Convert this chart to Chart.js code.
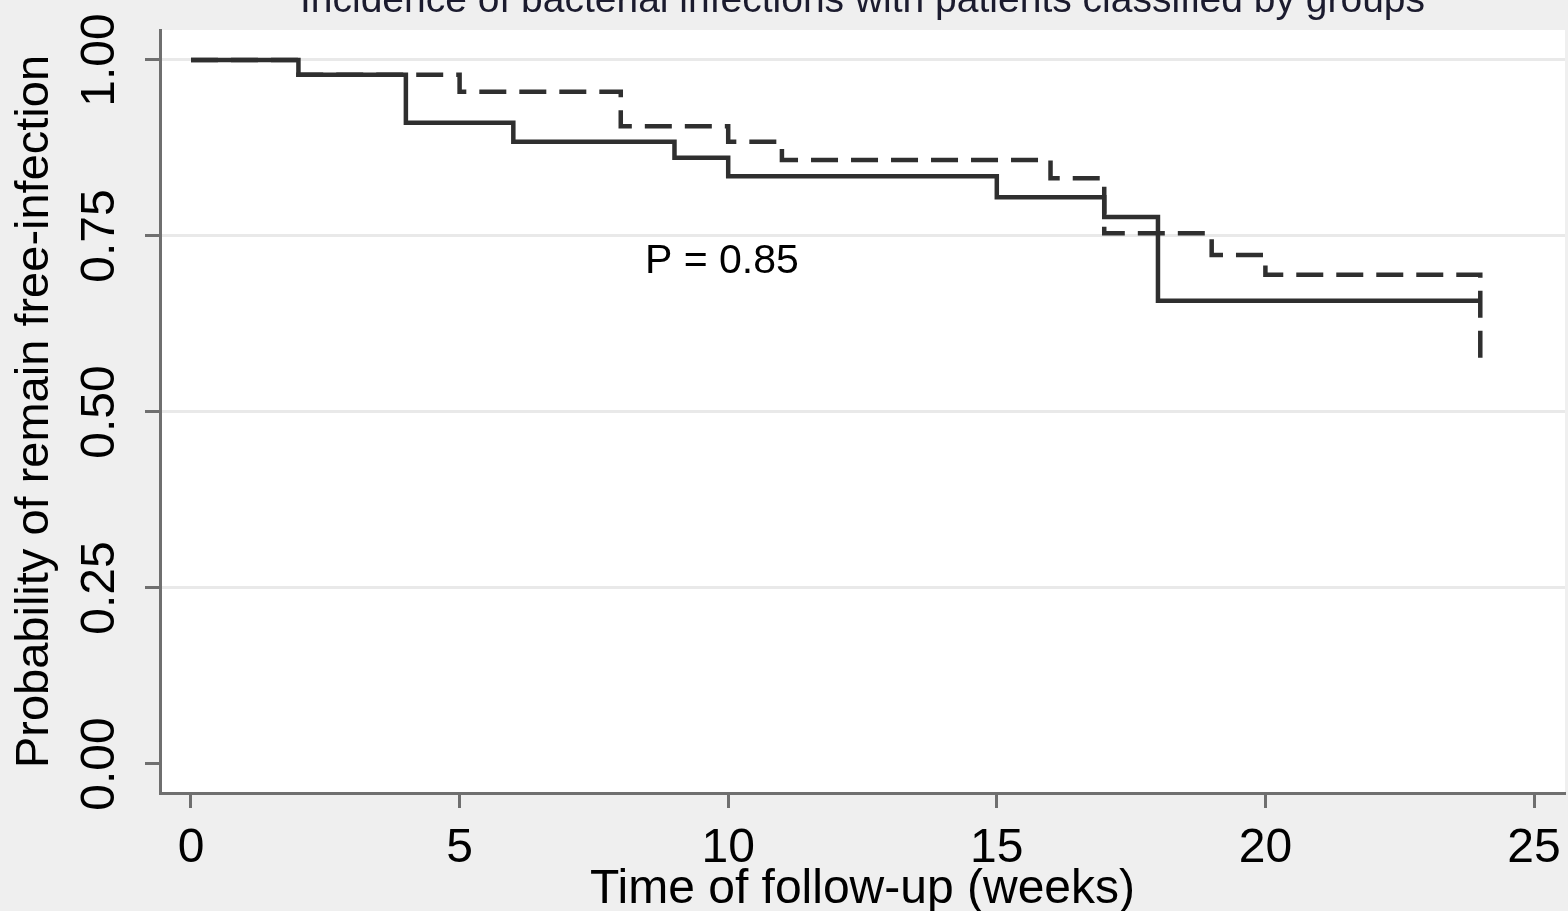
<!DOCTYPE html>
<html>
<head>
<meta charset="utf-8">
<title>Incidence of bacterial infections</title>
<script src="https://cdn.jsdelivr.net/npm/chart.js@4/dist/chart.umd.min.js"></script>
<style>
  html, body { margin: 0; padding: 0; background: #efefef; }
  canvas { display: block; }
</style>
</head>
<body>
<canvas id="km" width="1568" height="911"></canvas>
<script>
// Kaplan-Meier steps: week of each event and survival from that week on
const group1Weeks = [0, 2, 4, 6, 9, 10, 15, 17, 18, 24];
const group1Surv  = [1.000, 0.979, 0.911, 0.884, 0.861, 0.835, 0.805, 0.777, 0.658, 0.658];
const group2Weeks = [0, 2, 5, 8, 10, 11, 16, 17, 19, 20, 24];
const group2Surv  = [1.000, 0.979, 0.955, 0.906, 0.884, 0.858, 0.832, 0.754, 0.723, 0.695, 0.571];

const xTicks = [0, 5, 10, 15, 20, 25];
const yTicks = [0, 0.25, 0.5, 0.75, 1];

const chartTitle = 'Incidence of bacterial infections with patients classified by groups';
const xTitle = 'Time of follow-up (weeks)';
const yTitle = 'Probability of remain free-infection';
const pNote = { text: 'P = 0.85', week: 8.45, surv: 0.697 };

const INK = '#2f2f2f';
const AXIS = '#6f6f6f';
const FONT = '"Liberation Sans", Arial, Helvetica, sans-serif';

function toPoints(weeks, surv){ return weeks.map((w, i) => ({ x: w, y: surv[i] })); }

// grey page with a white plotting region
const backdrop = {
  id: 'backdrop',
  beforeDraw(chart){
    const { ctx, chartArea: a } = chart;
    ctx.save();
    ctx.fillStyle = '#efefef';
    ctx.fillRect(0, 0, chart.width, chart.height);
    ctx.fillStyle = '#ffffff';
    ctx.fillRect(a.left, a.top, a.right - a.left, a.bottom - a.top);
    ctx.restore();
  }
};

// title above the plot and the p-value note inside it
const notes = {
  id: 'notes',
  afterDraw(chart){
    const { ctx, chartArea: a, scales } = chart;
    ctx.save();
    ctx.fillStyle = '#1b1b2e';
    ctx.font = '39px ' + FONT;
    ctx.textAlign = 'center';
    ctx.textBaseline = 'alphabetic';
    ctx.fillText(chartTitle, (a.left + a.right) / 2, 12);

    ctx.fillStyle = '#000';
    ctx.font = '41px ' + FONT;
    ctx.textAlign = 'left';
    ctx.fillText(pNote.text, scales.x.getPixelForValue(pNote.week), scales.y.getPixelForValue(pNote.surv));
    ctx.restore();
  }
};

const lineStyle = {
  borderColor: INK,
  borderWidth: 4.5,
  stepped: 'before',
  pointRadius: 0,
  fill: false,
  borderCapStyle: 'butt',
  borderJoinStyle: 'miter'
};

new Chart(document.getElementById('km'), {
  type: 'line',
  data: {
    datasets: [
      { label: 'Group 1', data: toPoints(group1Weeks, group1Surv), ...lineStyle },
      { label: 'Group 2', data: toPoints(group2Weeks, group2Surv), ...lineStyle, borderDash: [27, 13] }
    ]
  },
  options: {
    responsive: false,
    animation: false,
    layout: { padding: { top: 30, right: 3, left: 0, bottom: 0 } },
    plugins: { legend: { display: false }, tooltip: { enabled: false } },
    scales: {
      x: {
        type: 'linear',
        min: -0.577,
        max: 25.577,
        afterBuildTicks: s => { s.ticks = xTicks.map(v => ({ value: v })); },
        afterFit: s => { s.height = 118; s.paddingLeft = 0; s.paddingRight = 0; },
        grid: { drawOnChartArea: false, drawTicks: true, tickLength: 15, tickWidth: 3, tickColor: AXIS },
        border: { color: AXIS, width: 3 },
        ticks: { color: '#000', font: { family: FONT, size: 48 }, padding: 12, maxRotation: 0, autoSkip: false },
        title: { display: true, text: xTitle, color: '#000', font: { family: FONT, size: 48, lineHeight: 1 }, padding: { top: 0, bottom: -3 } }
      },
      y: {
        type: 'linear',
        min: -0.0412,
        max: 1.0426,
        afterBuildTicks: s => { s.ticks = yTicks.map(v => ({ value: v })); },
        afterFit: s => { s.width = 160; s.paddingTop = 0; s.paddingBottom = 0; },
        grid: {
          color: c => (c.tick && c.tick.value === 0) ? 'rgba(0,0,0,0)' : '#e9e9e9',
          lineWidth: 3,
          drawTicks: true,
          tickLength: 15,
          tickWidth: 3,
          tickColor: AXIS
        },
        border: { color: AXIS, width: 3 },
        ticks: {
          color: '#000',
          font: { family: FONT, size: 48 },
          padding: -2,
          minRotation: 90,
          maxRotation: 90,
          crossAlign: 'center',
          autoSkip: false,
          callback: v => v.toFixed(2)
        },
        title: { display: true, text: yTitle, color: '#000', font: { family: FONT, size: 47, lineHeight: 1 }, padding: { top: 12, bottom: 0 } }
      }
    }
  },
  plugins: [backdrop, notes]
});
</script>
</body>
</html>
